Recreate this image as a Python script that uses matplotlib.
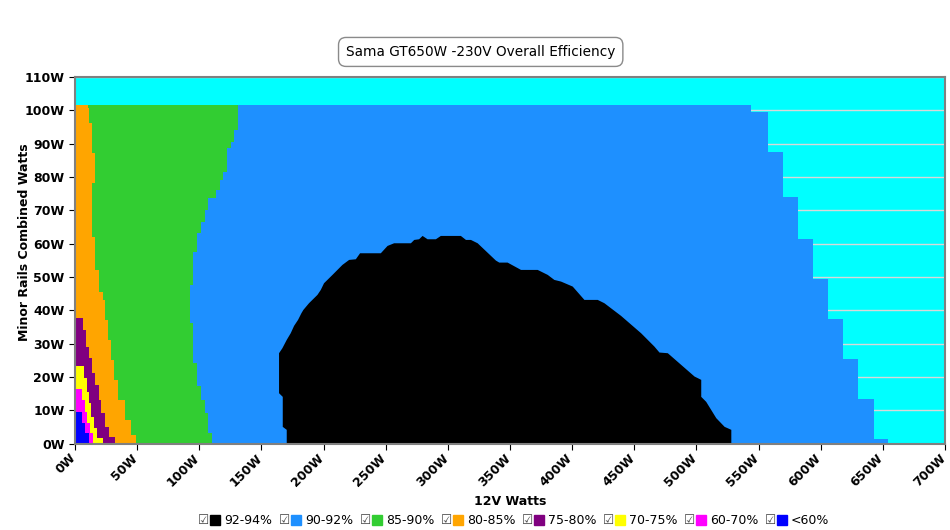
import matplotlib
matplotlib.use("Agg")
import matplotlib.pyplot as plt
from matplotlib.patches import Rectangle
from matplotlib.transforms import ScaledTranslation

# Efficiency map data (x = 12V watts, y = minor rails watts)
title = "Sama GT650W -230V Overall Efficiency"
band_labels = ["92-94%", "90-92%", "85-90%", "80-85%", "75-80%", "70-75%", "60-70%", "<60%"]
band_colors = ["#000000", "#1E90FF", "#32CD32", "#FFA500", "#800080", "#FFFF00", "#FF00FF", "#0000FF"]

# right edge of each band: y edges (bottom->top) and x value on each step
edge_9092_y = [0, 1.5, 13.5, 25.5, 37.5, 49.5, 61.5, 74, 87.6, 99.6, 101.7]
edge_9092_x = [654, 643, 630, 618, 606, 594, 582, 570, 558, 544]

edge_8590_y = [0, 3.2, 9.2, 13.2, 17.2, 24.2, 36.2, 47.7, 57.6, 63.1, 66.6, 70.1, 73.6, 76.1, 79.1, 81.6, 88.6, 90.6, 94.2, 101.7]
edge_8590_x = [110, 107.3, 104.3, 101.1, 97.9, 94.7, 92.5, 94.7, 97.9, 101.1, 104.3, 107.3, 113.2, 116.6, 119.4, 122, 125.8, 127.9, 131.1]

edge_8085_y = [0, 2.6, 7.1, 13.1, 19.1, 25.1, 31.1, 37.1, 43.1, 45.6, 52.1, 62.1, 78.1, 87.1, 96.1, 100.6, 101.7]
edge_8085_x = [49.5, 44.7, 39.9, 35, 31.8, 28.6, 26.2, 23.8, 22.4, 19.2, 16.5, 13.9, 16.5, 13.9, 11.7, 10.3]

edge_7580_y = [0, 2.0, 5.0, 9.1, 13.1, 17.6, 21.1, 25.6, 29.1, 34.1, 37.6]
edge_7580_x = [32.6, 27, 23.8, 21.3, 19.2, 16.5, 13.9, 11.1, 8.5, 6.3]

edge_7075_y = [0, 1.6, 4.6, 8, 12.1, 15.5, 19.6, 23.3]
edge_7075_x = [22.2, 18.1, 15.7, 13, 11.1, 9.3, 7.1]

edge_6070_y = [0, 3.1, 6.1, 9.5, 13.1, 16.3]
edge_6070_x = [14.9, 11.9, 9.8, 7.7, 5.8]

edge_u60_y = [0, 3.1, 6.1, 9.5]
edge_u60_x = [10.9, 7.7, 5.8]

# 92-94% island outline
peak_x = [170.4, 170.4, 167.2, 167.2, 164.2, 164.2, 166.9, 170.4, 173.6, 176.3,
          179.5, 182.2, 183.8, 188.3, 195.1, 197.8, 200.4, 207.2, 215.2, 220.6,
          226, 229.4, 246.1, 251.5, 256.8, 270.3, 273, 276.9, 279.7, 283.7,
          290.4, 294.4, 310.5, 314.6, 318.6, 324, 338.7, 341.4, 348.1, 358.9,
          372.3, 380.4, 385.7, 391.1, 400.5, 409.9, 420.6, 426, 439.4, 455.5,
          466.2, 470.3, 477, 498.5, 503.9, 503.9, 507.9, 516, 522.7, 528.1, 528.1]
peak_y = [0, 4.1, 5, 14, 15.1, 27.1, 28.6, 31.1, 33.1, 35.3,
          37.1, 39.1, 40.1, 42.1, 44.6, 46.1, 48.1, 50.6, 53.6, 55.1,
          55.3, 57.1, 57.1, 59.3, 60.1, 60.1, 61.1, 61.3, 62.3, 61.3,
          61.3, 62.3, 62.3, 61.1, 61.1, 60.1, 54.9, 54.3, 54.3, 52.1,
          52.1, 50.6, 49.1, 48.6, 47.1, 43.1, 43.1, 42.1, 38.3, 33.1,
          29.1, 27.3, 27.1, 20.1, 19.1, 14, 12.5, 7.6, 5, 4.1, 0]

x_ticks = list(range(0, 701, 50))
y_ticks = list(range(0, 111, 10))

fig = plt.figure(figsize=(9.5, 5.3), dpi=100)
ax = fig.add_axes([0.0789, 0.1632, 0.9158, 0.6915])
ax.set_facecolor("#00FFFF")

edges = [
    (edge_9092_y, edge_9092_x, band_colors[1]),
    (edge_8590_y, edge_8590_x, band_colors[2]),
    (edge_8085_y, edge_8085_x, band_colors[3]),
    (edge_7580_y, edge_7580_x, band_colors[4]),
    (edge_7075_y, edge_7075_x, band_colors[5]),
    (edge_6070_y, edge_6070_x, band_colors[6]),
    (edge_u60_y, edge_u60_x, band_colors[7]),
]
for z, (ey, ex, c) in enumerate(edges):
    ax.fill_betweenx(ey, 0, ex + [ex[-1]], step="post", color=c, lw=0, zorder=2 + z)

ax.fill(peak_x, peak_y, color=band_colors[0], lw=0, zorder=3)

ax.set_xlim(0, 700)
ax.set_ylim(0, 110)
ax.set_yticks(y_ticks)
ax.set_yticklabels([f"{v}W" for v in y_ticks], fontweight="bold", fontsize=9)
ax.set_xticks(x_ticks)
ax.set_xticklabels([])
# rotated x labels, nudged left a little so the last one stays inside
shift = ScaledTranslation(-6 / 100, -8 / 100, fig.dpi_scale_trans)
for v in x_ticks:
    ax.text(v, 0, f"{v}W", transform=ax.get_xaxis_transform() + shift,
            rotation=45, ha="right", va="top", rotation_mode="anchor",
            fontweight="bold", fontsize=9)
ax.yaxis.grid(True, color="#d8d8d8", lw=1)
ax.set_axisbelow(True)
ax.tick_params(direction="out", length=4, color="black")
for s in ax.spines.values():
    s.set_color("#808080")
    s.set_linewidth(1.5)
    s.set_zorder(20)

ax.set_xlabel("12V Watts", fontweight="bold", fontsize=9)
ax.xaxis.set_label_coords(0.5, -0.14)
ax.set_ylabel("Minor Rails Combined Watts", fontweight="bold", fontsize=9)
ax.yaxis.set_label_coords(-0.05, 0.55)

fig.text(0.506, 0.902, title, ha="center", va="center", fontsize=9.8,
         bbox=dict(boxstyle="round,pad=0.55", fc="white", ec="#8a8a8a", lw=1))

# legend row with check boxes
W, H = 950.0, 530.0
ly = 520
for i, (lab, c) in enumerate(zip(band_labels, band_colors)):
    x0 = 198 + i * 81
    fig.text(x0 / W, 1 - ly / H, "\u2611", ha="left", va="center", fontsize=9, color="#444444")
    fig.patches.append(Rectangle(((x0 + 12) / W, 1 - (ly + 5) / H), 10 / W, 10 / H,
                                 transform=fig.transFigure, color=c, figure=fig))
    fig.text((x0 + 26) / W, 1 - ly / H, lab, ha="left", va="center", fontsize=9)

fig.savefig("out.png", dpi=100)
